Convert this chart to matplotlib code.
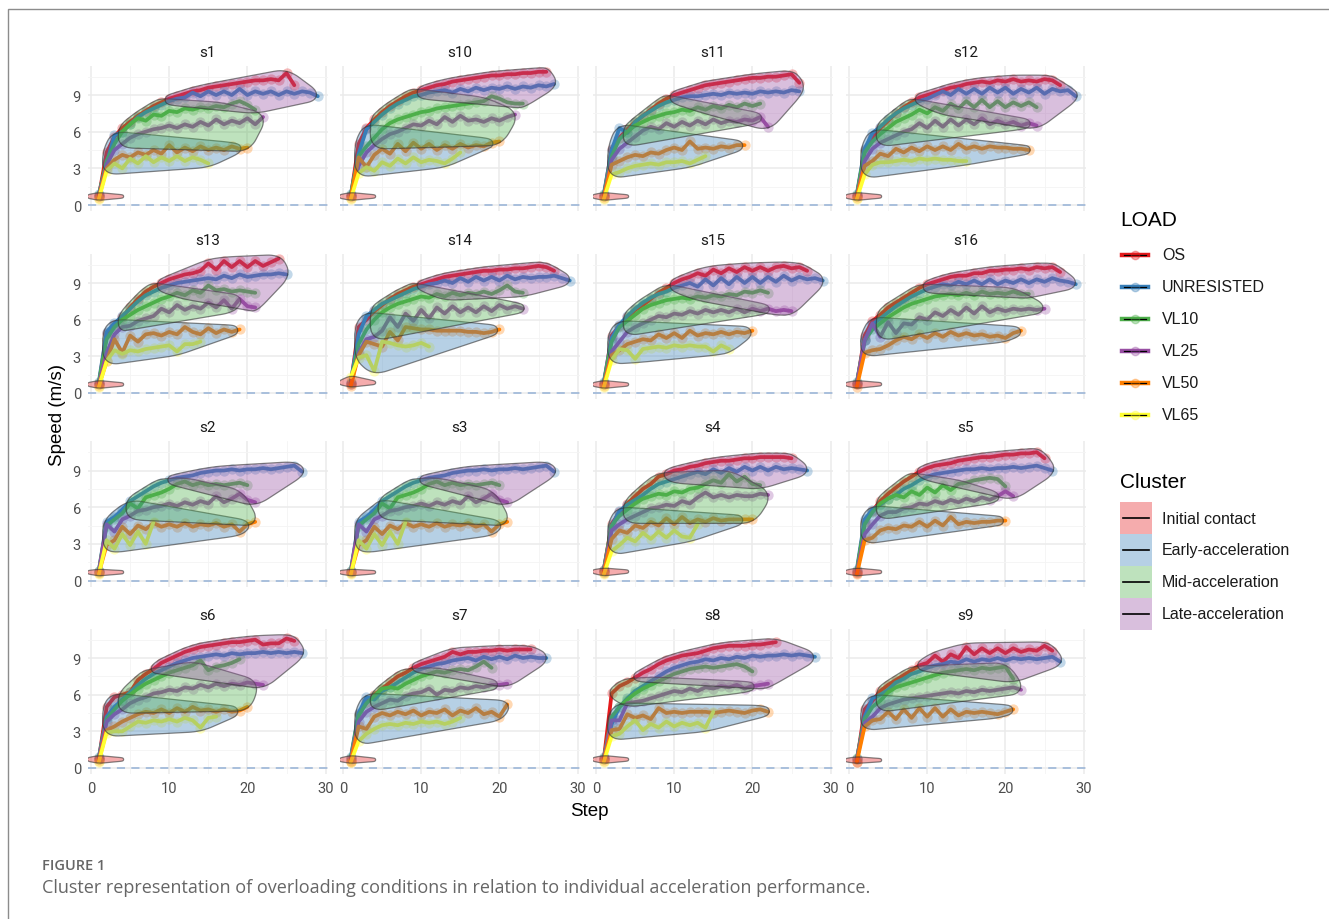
import numpy as np
import matplotlib
matplotlib.use("Agg")
import matplotlib.pyplot as plt
from matplotlib.patches import Polygon, Rectangle
from matplotlib.lines import Line2D
from matplotlib.colors import to_rgba

W, H = 1329, 920

subjects = ["s1", "s10", "s11", "s12", "s13", "s14", "s15", "s16",
            "s2", "s3", "s4", "s5", "s6", "s7", "s8", "s9"]
loads = ["OS", "UNRESISTED", "VL10", "VL25", "VL50", "VL65"]
load_colors = ["#E41A1C", "#377EB8", "#4DAF4A", "#984EA3", "#FF7F00", "#FFFF33"]
clusters = ["Initial contact", "Early-acceleration", "Mid-acceleration", "Late-acceleration"]
cluster_colors = ["#E41A1C", "#377EB8", "#4DAF4A", "#984EA3"]

# speed (m/s) at each step, step 1 first
speed_os = {
    "s1": [0.7, 4.3, 5.6, 6.3, 6.8, 7.3, 7.7, 8.1, 8.4, 8.7, 8.9, 9.1, 9.3, 9.4, 9.6, 9.7, 9.8, 9.9, 10.0, 10.1, 10.2, 10.2, 10.3, 10.2, 10.8, 9.8],
    "s10": [0.7, 5.0, 6.3, 7.0, 7.6, 8.1, 8.5, 8.9, 9.2, 9.4, 9.6, 9.8, 9.9, 10.1, 10.2, 10.3, 10.4, 10.5, 10.6, 10.6, 10.7, 10.7, 10.8, 10.8, 10.9, 10.9],
    "s11": [0.7, 4.6, 5.5, 6.2, 6.8, 7.3, 7.8, 8.3, 8.7, 9.0, 9.2, 9.4, 9.6, 9.8, 9.9, 10.0, 10.1, 10.2, 10.3, 10.4, 10.4, 10.5, 10.5, 10.6, 10.7, 10.0],
    "s12": [0.7, 4.5, 5.5, 6.3, 6.9, 7.5, 8.0, 8.4, 8.8, 9.0, 9.2, 9.4, 9.6, 9.7, 9.9, 10.0, 10.1, 10.0, 10.2, 10.1, 10.3, 10.1, 10.2, 10.1, 10.3, 10.2, 9.8],
    "s13": [0.7, 4.9, 5.6, 6.2, 7.0, 7.7, 8.3, 8.7, 9.0, 9.3, 9.5, 9.7, 9.8, 10.0, 10.6, 10.1, 10.8, 10.3, 10.8, 10.3, 10.8, 10.4, 10.7, 11.0],
    "s14": [0.7, 5.4, 6.0, 6.7, 7.2, 7.7, 8.1, 8.4, 8.7, 8.9, 9.1, 9.3, 9.5, 9.6, 9.7, 9.8, 9.9, 10.0, 10.0, 10.1, 10.1, 10.2, 10.2, 10.3, 10.4, 10.3, 10.0],
    "s15": [0.7, 4.7, 5.5, 6.2, 6.8, 7.2, 7.7, 8.2, 8.6, 9.0, 9.3, 9.5, 9.8, 9.6, 10.1, 9.8, 10.2, 9.9, 10.3, 10.0, 10.3, 10.0, 10.3, 10.4, 10.2, 10.3, 10.0],
    "s16": [0.7, 4.7, 5.9, 6.4, 7.0, 7.4, 7.8, 8.2, 8.6, 8.9, 9.1, 9.3, 9.5, 9.6, 9.6, 9.8, 9.8, 10.0, 10.0, 10.1, 10.1, 10.2, 10.1, 10.3, 10.2, 10.3, 9.9],
    "s4": [0.9, 4.6, 5.6, 6.3, 6.9, 7.5, 7.9, 8.5, 8.7, 9.0, 9.1, 9.3, 9.4, 9.6, 9.7, 9.8, 9.8, 9.9, 10.0, 10.0, 10.1, 10.1, 10.1, 10.1, 10.0],
    "s5": [0.6, 4.8, 5.7, 6.5, 7.1, 7.6, 8.1, 8.5, 8.9, 9.2, 9.4, 9.5, 9.6, 9.8, 9.9, 10.0, 10.1, 10.1, 10.2, 10.3, 10.3, 10.4, 10.4, 10.5, 10.0],
    "s6": [0.7, 5.0, 5.8, 6.0, 6.2, 7.2, 7.7, 8.1, 8.6, 8.9, 9.2, 9.5, 9.7, 9.9, 10.0, 10.1, 10.2, 10.3, 10.3, 10.4, 10.5, 10.1, 10.2, 10.2, 10.6, 10.4],
    "s7": [0.6, 4.4, 5.4, 6.0, 6.5, 7.0, 7.5, 7.8, 8.2, 8.5, 8.7, 8.9, 9.1, 9.5, 9.3, 9.5, 9.5, 9.6, 9.6, 9.7, 9.6, 9.7, 9.7, 9.7],
    "s8": [0.7, 6.1, 6.7, 7.0, 7.4, 7.8, 8.1, 8.5, 8.8, 9.0, 9.2, 9.3, 9.4, 9.6, 9.8, 9.9, 10.0, 10.0, 10.0, 10.1, 10.1, 10.2, 10.3],
    "s9": [0.5, 4.8, 5.5, 6.3, 6.8, 7.2, 7.6, 8.0, 8.4, 8.6, 9.2, 8.7, 9.3, 9.0, 9.9, 9.3, 9.8, 9.4, 9.8, 9.4, 9.8, 9.5, 9.7, 9.6, 10.0, 9.6],
}
speed_unres = {
    "s1": [0.9, 3.4, 5.7, 6.0, 6.6, 7.2, 7.6, 7.9, 8.2, 8.5, 8.7, 8.8, 9.2, 8.9, 9.3, 9.0, 9.3, 9.0, 9.5, 9.0, 9.3, 9.1, 9.3, 9.0, 9.3, 9.1, 9.3, 9.2, 8.9],
    "s10": [0.9, 4.2, 6.2, 6.8, 7.4, 7.9, 8.3, 8.6, 8.9, 9.0, 9.2, 9.3, 9.4, 9.2, 9.5, 9.3, 9.6, 9.4, 9.6, 9.5, 9.7, 9.5, 9.7, 9.6, 9.8, 9.7, 9.9],
    "s11": [0.9, 4.5, 6.3, 5.9, 6.8, 7.3, 7.7, 8.1, 8.4, 8.6, 8.8, 8.9, 8.9, 9.0, 9.1, 9.0, 9.2, 9.1, 9.2, 9.1, 9.3, 9.2, 9.3, 9.2, 9.4, 9.3],
    "s12": [0.9, 4.6, 5.9, 6.4, 7.0, 7.5, 7.9, 8.2, 8.5, 8.7, 9.0, 9.3, 9.0, 9.5, 9.1, 9.5, 9.1, 9.6, 9.2, 9.6, 9.1, 9.5, 9.2, 9.6, 9.1, 9.5, 9.3, 9.4, 8.9],
    "s13": [0.9, 5.0, 5.7, 6.3, 6.9, 7.5, 8.0, 8.3, 8.6, 8.8, 9.0, 9.1, 9.2, 9.3, 9.4, 9.3, 9.6, 9.4, 9.7, 9.5, 9.6, 9.7, 9.7, 9.8, 9.7],
    "s14": [0.9, 4.8, 6.3, 6.8, 7.3, 7.6, 7.9, 8.2, 8.5, 8.7, 8.9, 9.0, 9.2, 9.0, 9.4, 9.1, 9.5, 9.2, 9.5, 9.2, 9.6, 9.3, 9.5, 9.4, 9.5, 9.5, 9.6, 9.4, 9.2],
    "s15": [0.9, 4.5, 5.6, 6.3, 6.9, 7.4, 7.8, 8.1, 8.3, 8.6, 8.8, 9.0, 8.7, 9.3, 8.8, 9.4, 8.9, 9.5, 9.0, 9.5, 9.0, 9.5, 9.1, 9.6, 9.2, 9.5, 9.3, 9.4, 9.2],
    "s16": [0.9, 4.3, 5.6, 6.1, 6.6, 7.1, 7.5, 7.9, 8.2, 8.5, 8.7, 8.9, 8.8, 9.1, 8.9, 9.2, 8.9, 9.3, 8.9, 9.2, 9.0, 9.3, 9.0, 9.3, 9.1, 9.4, 9.2, 9.1, 8.9],
    "s2": [0.8, 4.8, 5.2, 5.8, 6.5, 6.9, 7.3, 7.7, 8.0, 8.2, 8.4, 8.5, 8.6, 8.8, 8.9, 9.0, 9.0, 9.1, 9.0, 9.1, 9.1, 9.2, 9.1, 9.2, 9.3, 9.4, 8.9],
    "s4": [0.9, 4.4, 5.7, 6.2, 6.6, 7.0, 7.5, 7.9, 8.1, 8.3, 8.5, 8.7, 8.9, 8.7, 9.1, 8.8, 9.2, 8.9, 9.3, 9.0, 9.3, 9.0, 9.3, 9.1, 9.2, 9.1, 9.0],
    "s5": [0.9, 5.0, 5.8, 6.2, 6.7, 7.0, 7.5, 7.8, 8.2, 8.5, 8.7, 8.8, 8.9, 9.0, 9.1, 9.1, 9.2, 9.1, 9.2, 9.2, 9.3, 9.2, 9.3, 9.4, 9.2, 9.0],
    "s6": [0.9, 4.2, 5.0, 5.6, 6.2, 6.8, 7.3, 7.7, 8.0, 8.3, 8.6, 8.8, 9.0, 9.1, 9.2, 9.3, 9.2, 9.4, 9.3, 9.4, 9.4, 9.5, 9.4, 9.5, 9.4, 9.5, 9.4],
    "s7": [0.9, 4.5, 5.8, 5.6, 6.3, 6.6, 7.0, 7.4, 7.8, 8.1, 8.3, 8.5, 8.6, 8.8, 8.9, 9.0, 8.8, 9.1, 8.9, 9.1, 8.9, 9.2, 9.0, 9.1, 9.0, 9.0],
    "s8": [0.9, 3.6, 5.0, 5.7, 6.3, 6.7, 7.1, 7.5, 7.9, 8.2, 8.4, 8.6, 8.7, 8.9, 8.8, 9.0, 8.9, 9.1, 9.0, 9.2, 9.1, 9.2, 9.2, 9.3, 9.2, 9.3, 9.2, 9.1],
    "s9": [0.7, 4.2, 5.7, 6.0, 6.4, 7.0, 7.3, 7.7, 7.9, 8.2, 8.4, 8.5, 8.7, 8.6, 8.9, 8.7, 8.9, 8.8, 9.0, 8.8, 9.0, 8.9, 9.0, 8.9, 9.0, 9.1, 8.7],
}
speed_vl10 = {
    "s1": [0.8, 3.6, 5.0, 6.0, 6.6, 7.1, 6.9, 7.4, 7.3, 7.7, 7.6, 7.9, 7.8, 8.0, 7.9, 8.1, 8.0, 8.3, 8.5, 8.2, 7.8],
    "s10": [0.8, 4.0, 4.8, 5.5, 6.2, 6.7, 7.0, 7.2, 7.4, 7.6, 7.7, 7.9, 8.0, 8.1, 8.2, 8.3, 8.4, 8.5, 8.9, 8.7, 8.4, 8.3, 8.3],
    "s11": [0.8, 4.0, 5.4, 6.0, 6.5, 6.8, 7.1, 7.3, 7.5, 7.6, 7.8, 7.7, 8.0, 7.8, 8.1, 7.9, 8.2, 8.0, 8.3, 8.1, 8.3],
    "s12": [0.8, 4.3, 5.2, 5.8, 6.3, 6.8, 7.1, 7.4, 7.8, 7.5, 8.0, 7.7, 8.3, 7.9, 8.5, 8.0, 8.6, 8.0, 8.5, 8.0, 8.4, 8.1, 8.4, 8.0],
    "s13": [0.8, 4.4, 5.4, 6.0, 6.4, 6.8, 7.1, 7.4, 7.7, 7.9, 8.2, 8.0, 8.4, 8.2, 8.8, 8.4, 8.5, 8.3, 8.4, 8.3, 8.2],
    "s14": [0.8, 4.0, 5.2, 6.0, 6.6, 7.0, 7.3, 7.5, 7.7, 7.9, 7.8, 8.1, 7.9, 8.2, 8.0, 8.2, 8.1, 8.3, 8.1, 8.4, 8.8, 8.3, 8.2],
    "s15": [0.8, 4.2, 5.4, 5.9, 6.4, 6.9, 7.2, 7.4, 7.6, 7.7, 7.8, 7.7, 7.9, 7.8, 8.0, 7.9, 8.1, 8.0, 8.3, 8.2, 8.4, 8.2],
    "s16": [0.8, 4.3, 5.2, 5.7, 6.2, 6.6, 7.0, 7.3, 7.5, 7.7, 7.9, 8.0, 8.1, 8.0, 8.2, 8.0, 8.3, 8.1, 8.2, 8.1, 8.3, 8.1, 8.1],
    "s2": [0.8, 4.5, 5.0, 5.5, 6.3, 5.9, 6.8, 7.0, 7.2, 7.5, 7.9, 8.1, 7.8, 8.0, 7.8, 7.9, 7.8, 7.9, 8.0, 7.8],
    "s4": [0.8, 4.5, 5.3, 5.8, 6.3, 6.7, 6.9, 7.1, 7.0, 7.3, 7.2, 7.5, 7.6, 7.9, 8.2, 8.0, 8.7, 8.1, 8.5, 7.9, 7.8],
    "s5": [0.8, 4.6, 5.6, 6.3, 6.7, 7.0, 6.8, 7.3, 7.0, 7.6, 7.2, 7.8, 7.4, 7.9, 8.0, 8.2, 8.3, 8.4, 8.3, 7.7],
    "s6": [0.8, 4.0, 4.8, 5.5, 6.0, 6.5, 6.9, 7.2, 7.5, 7.8, 8.0, 8.2, 8.4, 8.8, 8.0, 8.3, 8.4, 8.6, 8.9],
    "s7": [0.8, 4.3, 5.3, 5.9, 6.5, 6.6, 6.5, 6.9, 7.2, 7.5, 7.7, 7.9, 7.8, 8.0, 8.1, 8.0, 8.3, 8.7, 8.2],
    "s8": [0.8, 4.2, 5.0, 5.6, 6.1, 6.5, 6.8, 7.1, 7.4, 7.7, 7.9, 8.1, 8.2, 8.3, 8.2, 8.3, 8.4, 8.5, 8.3, 7.9],
    "s9": [0.8, 4.0, 5.0, 5.5, 6.2, 6.6, 6.8, 7.0, 7.2, 7.4, 7.6, 7.8, 7.9, 8.0, 8.1, 8.0, 8.2, 8.1, 8.2, 8.3, 7.3],
}
speed_vl25 = {
    "s1": [0.7, 3.3, 4.5, 5.0, 5.5, 5.8, 6.0, 6.2, 6.3, 6.5, 6.3, 6.6, 6.4, 6.8, 6.5, 7.0, 6.6, 6.9, 6.7, 7.1, 6.6, 7.2],
    "s10": [0.7, 3.2, 4.3, 4.9, 5.4, 5.8, 6.0, 6.3, 6.6, 6.5, 6.9, 6.6, 7.2, 6.8, 7.3, 6.9, 7.0, 6.8, 7.1, 6.9, 7.2, 7.4],
    "s11": [0.7, 3.7, 4.6, 5.1, 5.6, 6.1, 6.4, 6.2, 6.7, 6.4, 6.8, 6.5, 6.9, 6.6, 7.0, 6.7, 6.9, 6.8, 7.0, 6.9, 7.2, 6.4],
    "s12": [0.7, 3.6, 4.6, 5.1, 5.4, 5.7, 6.0, 6.2, 6.7, 6.3, 6.9, 6.4, 7.0, 6.5, 7.0, 6.6, 7.1, 6.6, 6.9, 6.6, 6.8, 6.5, 6.7, 6.5],
    "s13": [0.7, 3.3, 4.8, 5.4, 5.5, 5.9, 6.1, 6.3, 6.9, 6.6, 7.2, 6.8, 7.1, 6.9, 7.4, 7.0, 7.6, 6.9, 7.7, 7.1, 7.0],
    "s14": [0.7, 3.3, 4.4, 4.6, 5.1, 6.2, 5.4, 6.5, 5.9, 6.8, 6.1, 7.0, 6.5, 7.1, 6.6, 7.0, 6.6, 7.1, 6.7, 7.2, 6.9, 7.1, 6.9],
    "s15": [0.7, 3.4, 4.2, 5.0, 5.4, 5.7, 6.0, 6.3, 6.2, 6.5, 6.4, 6.7, 6.5, 6.8, 6.6, 6.8, 6.6, 6.9, 6.6, 6.9, 6.7, 6.9, 6.7, 6.8, 6.7],
    "s16": [0.7, 4.3, 5.7, 4.6, 5.8, 4.9, 5.7, 5.6, 6.2, 6.0, 6.6, 6.3, 6.8, 6.4, 7.0, 6.5, 7.1, 6.6, 6.9, 6.7, 6.9, 6.8, 6.9, 6.8, 6.9],
    "s2": [0.7, 4.6, 4.0, 5.0, 5.3, 5.7, 5.8, 6.0, 6.1, 6.3, 6.1, 6.4, 6.2, 6.5, 6.3, 6.9, 6.4, 6.7, 7.1, 6.6, 6.4],
    "s4": [0.7, 4.1, 4.6, 5.0, 5.3, 5.6, 5.9, 6.0, 6.2, 6.1, 6.5, 6.3, 6.8, 7.2, 6.8, 7.0, 6.8, 7.0, 6.9, 6.9, 7.1, 7.0],
    "s5": [0.7, 3.8, 4.6, 5.3, 5.6, 5.6, 5.9, 6.0, 6.3, 6.2, 6.5, 6.3, 6.6, 6.4, 6.7, 6.5, 6.8, 6.6, 6.9, 7.3, 6.9],
    "s6": [0.7, 3.8, 4.4, 4.8, 5.3, 5.6, 5.8, 6.1, 6.2, 6.4, 6.3, 6.6, 6.5, 6.8, 6.6, 6.9, 6.7, 6.9, 6.8, 7.0, 6.9, 6.8],
    "s7": [0.7, 3.8, 4.6, 5.0, 5.3, 5.6, 5.5, 5.9, 6.1, 6.2, 6.5, 6.0, 6.4, 6.3, 6.6, 6.5, 6.7, 6.6, 6.8, 6.8, 6.9],
    "s8": [0.7, 3.9, 3.9, 5.3, 5.4, 5.5, 5.7, 5.9, 6.1, 6.3, 6.2, 6.5, 6.3, 6.6, 6.5, 6.7, 6.6, 6.8, 6.5, 6.7, 6.8, 6.9],
    "s9": [0.7, 3.7, 4.2, 4.9, 5.2, 5.4, 5.6, 5.7, 5.8, 5.9, 6.0, 6.1, 6.2, 6.1, 6.3, 6.2, 6.4, 6.3, 6.4, 6.5, 6.6, 6.4],
}
speed_vl50 = {
    "s1": [0.6, 3.0, 3.7, 4.1, 3.9, 4.3, 4.1, 4.5, 4.2, 4.9, 4.3, 4.7, 4.4, 4.8, 4.5, 4.7, 4.5, 4.8, 4.6, 4.7],
    "s10": [0.6, 3.9, 3.1, 4.1, 4.6, 4.2, 5.0, 4.4, 5.1, 4.6, 5.0, 4.5, 4.9, 4.6, 5.0, 4.7, 4.9, 4.8, 5.1, 5.2],
    "s11": [0.6, 3.3, 3.6, 3.9, 4.1, 4.0, 4.3, 4.2, 4.5, 4.7, 4.5, 5.2, 4.6, 4.7, 4.6, 4.8, 4.7, 4.9, 4.9],
    "s12": [0.6, 3.2, 3.6, 4.2, 4.0, 4.6, 4.3, 4.7, 4.4, 4.8, 4.5, 4.8, 4.5, 5.0, 4.6, 4.8, 4.6, 4.8, 4.7, 4.7, 4.6, 4.6, 4.5],
    "s13": [0.6, 2.6, 4.4, 3.3, 4.7, 4.2, 4.8, 4.9, 4.7, 5.0, 4.8, 5.4, 5.0, 4.8, 5.3, 4.9, 5.2, 5.0, 5.2],
    "s14": [0.6, 3.1, 4.2, 4.0, 3.8, 5.0, 4.3, 5.4, 5.3, 5.2, 5.2, 5.1, 5.1, 5.1, 5.1, 5.0, 5.0, 4.9, 5.0, 5.2],
    "s15": [0.6, 3.1, 3.5, 4.0, 4.2, 4.4, 4.3, 4.8, 4.5, 4.9, 4.5, 5.1, 4.7, 4.9, 4.8, 5.0, 4.8, 5.0, 4.9, 5.1],
    "s16": [0.5, 3.3, 3.5, 3.6, 3.9, 4.3, 4.6, 4.4, 4.8, 4.5, 4.9, 4.6, 5.0, 4.7, 4.9, 4.7, 4.8, 4.6, 4.7, 4.5, 4.9, 5.1],
    "s2": [0.6, 2.9, 3.3, 4.4, 3.8, 4.5, 4.2, 4.7, 4.4, 4.6, 4.4, 4.7, 4.4, 4.6, 4.5, 4.7, 4.4, 4.6, 4.0, 4.6, 4.8],
    "s4": [0.6, 3.4, 4.1, 3.9, 4.5, 4.3, 4.8, 4.5, 5.1, 4.6, 5.2, 4.7, 5.0, 4.8, 5.1, 4.9, 5.0, 5.0, 5.0, 5.0],
    "s5": [0.5, 3.3, 3.5, 4.1, 4.3, 4.2, 4.5, 4.4, 4.8, 4.4, 4.9, 4.5, 5.2, 4.6, 4.8, 4.7, 4.8, 4.8, 4.9, 4.9],
    "s6": [0.6, 3.1, 3.4, 3.8, 4.1, 4.4, 4.6, 4.5, 4.8, 4.5, 4.9, 4.6, 5.0, 4.7, 4.8, 4.6, 4.8, 4.6, 4.7, 5.0],
    "s7": [0.5, 3.4, 3.2, 4.2, 4.5, 4.3, 4.6, 4.4, 4.7, 4.3, 4.6, 4.5, 4.8, 4.3, 4.7, 4.5, 4.9, 4.4, 4.6, 4.2, 5.2],
    "s8": [0.6, 3.1, 3.2, 4.4, 4.1, 4.3, 4.0, 4.9, 4.5, 4.6, 4.5, 4.6, 4.6, 4.6, 4.5, 4.6, 4.7, 4.6, 4.5, 4.7, 4.8, 4.6],
    "s9": [0.5, 3.4, 3.9, 4.0, 4.6, 4.0, 4.8, 4.1, 4.9, 4.2, 4.9, 4.2, 4.8, 4.3, 4.6, 4.5, 4.6, 4.5, 4.4, 4.6, 4.8],
}
speed_vl65 = {
    "s1": [0.5, 2.8, 3.4, 3.0, 3.8, 3.4, 4.0, 3.5, 3.9, 3.6, 4.0, 3.6, 3.9, 3.7, 3.4],
    "s10": [0.5, 2.6, 3.1, 2.8, 3.5, 3.2, 3.8, 3.4, 3.9, 3.5, 3.7, 3.6, 3.4, 3.8, 4.3],
    "s11": [0.5, 2.5, 2.7, 3.0, 3.2, 3.3, 3.4, 3.3, 3.5, 3.5, 3.6, 3.4, 3.7, 4.0],
    "s12": [0.5, 2.5, 3.3, 3.5, 3.5, 3.6, 3.7, 3.6, 3.8, 3.7, 3.8, 3.7, 3.7, 3.6, 3.6],
    "s13": [0.5, 2.6, 3.5, 3.2, 3.5, 3.4, 3.6, 3.7, 3.8, 3.9, 3.4, 4.0, 4.0, 4.2],
    "s14": [1.3, 2.9, 3.1, 1.8, 4.2, 4.1, 3.9, 3.8, 3.9, 4.1, 3.8],
    "s15": [0.5, 2.7, 3.6, 3.5, 2.8, 3.6, 3.7, 3.8, 3.7, 3.9, 3.8, 3.9, 3.8, 3.8, 3.4, 3.9, 3.6],
    "s2": [0.5, 3.3, 2.6, 3.8, 2.9, 4.0, 3.0, 4.8],
    "s4": [0.5, 2.4, 2.9, 3.5, 3.2, 3.9, 3.4, 4.0, 3.5, 4.1, 3.6, 3.5, 4.6],
    "s6": [0.5, 2.9, 3.0, 3.0, 3.4, 3.8, 3.7, 3.9, 3.8, 4.0, 3.8, 4.1, 3.9, 3.3, 4.1, 4.2],
    "s7": [0.5, 2.2, 2.8, 3.2, 3.5, 3.6, 3.5, 3.7, 3.6, 3.8, 3.7, 3.8, 3.6, 3.8, 4.1],
    "s8": [0.5, 2.6, 2.8, 3.4, 3.9, 3.1, 3.6, 3.3, 3.8, 3.4, 3.7, 3.5, 3.7, 3.3, 4.6],
}
# s3 repeats the s2 trials
for table in (speed_unres, speed_vl10, speed_vl25, speed_vl50, speed_vl65):
    table["s3"] = table["s2"]

# (last early-acceleration step, last mid-acceleration step); step 1 is initial contact
phase_os = {"s1": (3, 9), "s10": (3, 9), "s11": (3, 9), "s12": (3, 8), "s13": (3, 8), "s14": (3, 9),
            "s15": (3, 9), "s16": (3, 9), "s4": (3, 8), "s5": (3, 8), "s6": (3, 7), "s7": (3, 8),
            "s8": (1, 4), "s9": (3, 8)}
phase_unres = {"s1": (3, 9), "s10": (3, 9), "s11": (3, 9), "s12": (3, 8), "s13": (3, 8), "s14": (3, 9),
               "s15": (3, 9), "s16": (3, 9), "s2": (4, 9), "s3": (4, 9), "s4": (3, 9), "s5": (3, 9),
               "s6": (3, 8), "s7": (3, 9), "s8": (3, 7), "s9": (3, 9)}
phase_vl10 = {"s1": (3, 17), "s10": (3, 18), "s11": (3, 12), "s12": (3, 11), "s13": (3, 10), "s14": (3, 12),
              "s15": (3, 12), "s16": (3, 21), "s2": (5, 12), "s3": (5, 12), "s4": (3, 17), "s5": (3, 14),
              "s6": (3, 13), "s7": (3, 12), "s8": (3, 8), "s9": (3, 20)}
phase_vl25 = {"s1": (3, 22), "s10": (3, 22), "s11": (3, 21), "s12": (3, 23), "s13": (3, 19), "s14": (3, 23),
              "s15": (3, 22), "s16": (3, 25), "s2": (4, 19), "s3": (4, 19), "s4": (3, 22), "s5": (3, 19),
              "s6": (3, 21), "s7": (3, 20), "s8": (3, 20), "s9": (3, 22)}
phase_vl50 = {"s1": (19, 20), "s10": (19, 20), "s11": (19, 19), "s12": (23, 23), "s13": (19, 19),
              "s14": (20, 20), "s15": (20, 20), "s16": (22, 22), "s2": (20, 21), "s3": (20, 21),
              "s4": (19, 20), "s5": (20, 20), "s6": (19, 20), "s7": (21, 21), "s8": (22, 22), "s9": (21, 21)}
phase_vl65 = {"s1": (15, 15), "s10": (15, 15), "s11": (14, 14), "s12": (15, 15), "s13": (14, 14),
              "s14": (11, 11), "s15": (17, 17), "s2": (8, 8), "s3": (8, 8), "s4": (13, 13),
              "s6": (16, 16), "s7": (15, 15), "s8": (15, 15)}

speeds = dict(zip(loads, [speed_os, speed_unres, speed_vl10, speed_vl25, speed_vl50, speed_vl65]))
phases = dict(zip(loads, [phase_os, phase_unres, phase_vl10, phase_vl25, phase_vl50, phase_vl65]))


def phase_of(step, early_end, mid_end):
    if step == 1:
        return 0
    if step <= early_end:
        return 1
    if step <= mid_end:
        return 2
    return 3


def convex_hull(points):
    pts = sorted(set(map(tuple, np.round(points, 3))))
    if len(pts) < 3:
        return pts

    def cross(o, a, b):
        return (a[0] - o[0]) * (b[1] - o[1]) - (a[1] - o[1]) * (b[0] - o[0])

    lower, upper = [], []
    for p in pts:
        while len(lower) >= 2 and cross(lower[-2], lower[-1], p) <= 0:
            lower.pop()
        lower.append(p)
    for p in reversed(pts):
        while len(upper) >= 2 and cross(upper[-2], upper[-1], p) <= 0:
            upper.pop()
        upper.append(p)
    return lower[:-1] + upper[:-1]


def round_corners(poly, cut=12.0, n=10):
    # replace each corner by a quadratic bezier through the cut points
    poly = np.asarray(poly, float)
    m = len(poly)
    if m < 3:
        return poly
    t = np.linspace(0, 1, n)[:, None]
    out = []
    for i in range(m):
        p_prev, p, p_next = poly[i - 1], poly[i], poly[(i + 1) % m]
        e1, e2 = p_prev - p, p_next - p
        l1, l2 = np.hypot(*e1), np.hypot(*e2)
        a = p + e1 / l1 * min(cut, 0.45 * l1)
        b = p + e2 / l2 * min(cut, 0.45 * l2)
        out.append((1 - t) ** 2 * a + 2 * (1 - t) * t * p + t ** 2 * b)
    return np.vstack(out)


def smooth_hull(ax, x, y, radius, cut):
    disp = ax.transData.transform(np.column_stack([x, y]))
    hull = np.array(convex_hull(disp))
    if len(hull) >= 3:
        hull = round_corners(hull, cut=cut)
    # grow by a disc in screen pixels
    ang = np.linspace(0, 2 * np.pi, 20, endpoint=False)
    ring = radius * np.column_stack([np.cos(ang), np.sin(ang)])
    cloud = (hull[:, None, :] + ring[None, :, :]).reshape(-1, 2)
    grown = np.array(convex_hull(cloud))
    return ax.transData.inverted().transform(grown)


def fx(px):
    return px / W


def fy(py):
    return 1 - py / H


fig = plt.figure(figsize=(W / 100, H / 100), dpi=100)
fig.patch.set_facecolor("white")

col_zero = [91, 343, 596, 849]        # pixel of step 0 in each column
row_zero = [206, 394, 581.5, 769]     # pixel of speed 0 in each row
px_step, px_speed = 7.82, 12.22
xlim, ylim = (-0.4, 30.3), (-0.5, 11.4)

for k, subj in enumerate(subjects):
    r, c = divmod(k, 4)
    left = col_zero[c] + xlim[0] * px_step
    bottom = row_zero[r] - ylim[0] * px_speed
    w = (xlim[1] - xlim[0]) * px_step
    h = (ylim[1] - ylim[0]) * px_speed
    ax = fig.add_axes([fx(left), fy(bottom), w / W, h / H])
    ax.set_xlim(*xlim)
    ax.set_ylim(*ylim)
    ax.set_xticks([0, 10, 20, 30])
    ax.set_xticks([5, 15, 25], minor=True)
    ax.set_yticks([0, 3, 6, 9])
    ax.set_yticks([1.5, 4.5, 7.5, 10.5], minor=True)
    ax.grid(which="major", color="#EBEBEB", lw=1.1)
    ax.grid(which="minor", color="#F4F4F4", lw=0.6)
    ax.set_axisbelow(True)
    for sp in ax.spines.values():
        sp.set_visible(False)
    ax.tick_params(which="both", length=0, labelsize=10.5, labelcolor="#4D4D4D", pad=5)
    for lab in ax.get_xticklabels() + ax.get_yticklabels():
        lab.set_fontfamily("Roboto")
    if c != 0:
        ax.set_yticklabels([])
    if r != 3:
        ax.set_xticklabels([])
    ax.set_title(subj, fontsize=11, color="#1A1A1A", pad=7, fontfamily="Roboto")

    ax.axhline(0, color="#A3BBDA", lw=1.3, ls=(0, (4.5, 3.5)), zorder=1.5)

    members = {i: ([], []) for i in range(4)}
    for load, color in zip(loads, load_colors):
        if subj not in speeds[load]:
            continue
        v = np.array(speeds[load][subj])
        steps = np.arange(1, len(v) + 1)
        ax.scatter(steps, v, s=55, color=color, alpha=0.3, lw=0, zorder=2)
        ax.plot(steps, v, color=color, lw=2.7, solid_joinstyle="round",
                solid_capstyle="round", zorder=2.1)
        a, b = phases[load][subj]
        for s_, v_ in zip(steps, v):
            p = phase_of(s_, a, b)
            members[p][0].append(s_)
            members[p][1].append(v_)

    # initial contact is drawn as a flat leaf trailing to the right
    x0, y0 = members[0]
    mean0 = float(np.mean(y0))
    members[0] = (list(x0) + [1 - 1.6, 1 + 3.3], list(y0) + [mean0, mean0])

    for i in range(4):
        xs, ys = members[i]
        if len(xs) == 0:
            continue
        if i == 0:
            verts = smooth_hull(ax, xs, ys, radius=1.5, cut=5.0)
        else:
            verts = smooth_hull(ax, xs, ys, radius=4.0, cut=12.0)
        ax.add_patch(Polygon(verts, closed=True, facecolor=to_rgba(cluster_colors[i], 0.36),
                             edgecolor=(0.2, 0.2, 0.2, 0.6), lw=0.9, zorder=3))

# axis titles
fig.text(fx(589), fy(812), "Step", ha="center", va="center", fontsize=13.5,
         fontfamily="Liberation Sans", color="black")
fig.text(fx(57), fy(415), "Speed (m/s)", ha="center", va="center", rotation=90,
         fontsize=13.5, fontfamily="Liberation Sans", color="black")

# LOAD legend
fig.text(fx(1120), fy(221), "LOAD", ha="left", va="center", fontsize=15,
         fontfamily="Liberation Sans")
for i, (load, color) in enumerate(zip(loads, load_colors)):
    yy = fy(256 + 32 * i)
    fig.add_artist(Line2D([fx(1122), fx(1148)], [yy, yy], color=color, lw=3.2))
    fig.add_artist(Line2D([fx(1124), fx(1146)], [yy, yy], color="black", lw=0.9))
    fig.add_artist(Line2D([fx(1135)], [yy], marker="o", ms=6, color=color, alpha=0.35, lw=0))
    fig.text(fx(1162), yy, load, ha="left", va="center", fontsize=11.5,
             fontfamily="Liberation Sans", color="#1A1A1A")

# Cluster legend
fig.text(fx(1120), fy(483), "Cluster", ha="left", va="center", fontsize=15,
         fontfamily="Liberation Sans")
for i, (name, color) in enumerate(zip(clusters, cluster_colors)):
    top = 503 + 32 * i
    fig.add_artist(Rectangle((fx(1120), fy(top + 32)), 32 / W, 32 / H,
                             facecolor=to_rgba(color, 0.36), edgecolor="none"))
    yy = fy(top + 16)
    fig.add_artist(Line2D([fx(1123), fx(1149)], [yy, yy], color="black", lw=1.2))
    fig.text(fx(1162), yy, name, ha="left", va="center", fontsize=11.5,
             fontfamily="Liberation Sans", color="#1A1A1A")

# caption and frame
fig.text(fx(42), fy(866), "FIGURE 1", ha="left", va="center", fontsize=10.5,
         fontfamily="Open Sans", color="#666666", fontweight="semibold")
fig.text(fx(42), fy(888), "Cluster representation of overloading conditions in relation to "
         "individual acceleration performance.", ha="left", va="center", fontsize=13,
         fontfamily="Open Sans", color="#666666")
fig.add_artist(Rectangle((fx(8), fy(935)), 1.0, (935 - 10) / H, facecolor="none",
                         edgecolor="#8C8C8C", lw=1.0))

fig.savefig("out.png", dpi=100)
